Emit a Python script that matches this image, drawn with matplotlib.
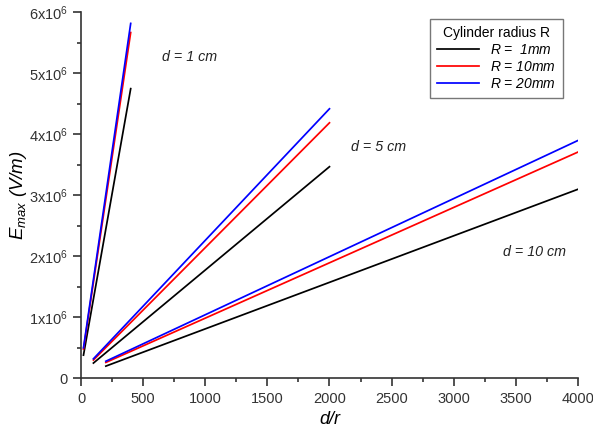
import matplotlib
matplotlib.use("Agg")
import matplotlib.pyplot as plt
from matplotlib.ticker import MultipleLocator, FuncFormatter

plt.rcParams['font.family'] = ['Liberation Sans', 'DejaVu Sans']
plt.rcParams['mathtext.fontset'] = 'custom'
plt.rcParams['mathtext.rm'] = 'Liberation Sans'
plt.rcParams['mathtext.it'] = 'Liberation Sans:italic'

# d/r values for each gap distance
x_d1 = [20, 400]
x_d5 = [100, 2000]
x_d10 = [200, 4000]

# E_max (V/m) for R = 1mm, 10mm, 20mm
d1_r1 = [0.38e6, 4.75e6]
d1_r10 = [0.48e6, 5.67e6]
d1_r20 = [0.50e6, 5.82e6]

d5_r1 = [0.25e6, 3.47e6]
d5_r10 = [0.30e6, 4.19e6]
d5_r20 = [0.32e6, 4.42e6]

d10_r1 = [0.20e6, 3.10e6]
d10_r10 = [0.26e6, 3.71e6]
d10_r20 = [0.28e6, 3.90e6]

labels = ['$R$ =  1mm', '$R$ = 10mm', '$R$ = 20mm']
colors = ['black', 'red', 'blue']

fig = plt.figure(figsize=(5.93, 4.33), dpi=100)
ax = fig.add_axes([0.1366, 0.1263, 0.838, 0.845])

groups = [(x_d1, [d1_r1, d1_r10, d1_r20]),
          (x_d5, [d5_r1, d5_r10, d5_r20]),
          (x_d10, [d10_r1, d10_r10, d10_r20])]
for gi, (xs, series) in enumerate(groups):
    for si, ys in enumerate(series):
        ax.plot(xs, ys, color=colors[si], lw=1.25,
                label=labels[si] if gi == 0 else None)

ax.set_xlim(0, 4000)
ax.set_ylim(0, 6e6)
ax.xaxis.set_major_locator(MultipleLocator(500))
ax.xaxis.set_minor_locator(MultipleLocator(250))
ax.yaxis.set_major_locator(MultipleLocator(1e6))
ax.yaxis.set_minor_locator(MultipleLocator(0.5e6))

def yfmt(v, pos):
    n = int(round(v / 1e6))
    if n == 0:
        return '0'
    return r'$%d\mathrm{x}10^6$' % n

ax.yaxis.set_major_formatter(FuncFormatter(yfmt))
ax.spines['top'].set_visible(False)
ax.spines['right'].set_visible(False)
for s in ['left', 'bottom']:
    ax.spines[s].set_linewidth(1.2)
    ax.spines[s].set_color('#333333')
ax.tick_params(which='major', direction='out', length=6, width=1.2,
               labelsize=10.5, colors='#333333')
ax.tick_params(which='minor', direction='out', length=3, width=1.2, colors='#333333')

ax.set_xlabel('d/r', fontsize=13, fontstyle='italic', labelpad=4)
ax.set_ylabel(r'$E_{max}$ (V/m)', fontsize=13.5, fontstyle='italic', labelpad=0)

ax.text(650, 5.2e6, 'd = 1 cm', fontsize=10.3, fontstyle='italic', color='#222222')
ax.text(2170, 3.73e6, 'd = 5 cm', fontsize=10.3, fontstyle='italic', color='#222222')
ax.text(3400, 2.0e6, 'd = 10 cm', fontsize=10.3, fontstyle='italic', color='#222222')

leg = ax.legend(title='Cylinder radius R', loc='upper right',
                bbox_to_anchor=(0.983, 1.0), fontsize=10, title_fontsize=10,
                frameon=True, fancybox=False, edgecolor='#555555',
                handlelength=3.0, borderpad=0.5, labelspacing=0.2)
for t in leg.get_texts():
    t.set_fontstyle('italic')
leg.get_frame().set_linewidth(1.0)

fig.savefig('out.png', dpi=100)
